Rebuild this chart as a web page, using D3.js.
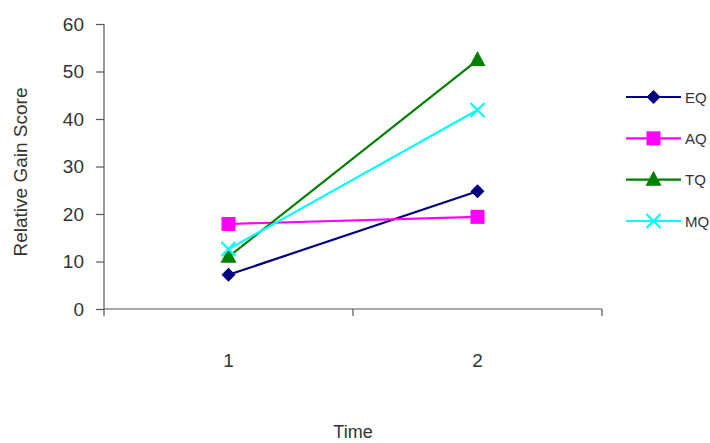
<!DOCTYPE html>
<html><head><meta charset="utf-8">
<script src="https://cdn.jsdelivr.net/npm/d3@7"></script>
<style>body{margin:0;background:#fff}svg{display:block;font-family:"Liberation Sans",Arial,sans-serif}</style>
</head><body><svg id="c" width="710" height="443"></svg>
<script>
const categories = ["1", "2"];
const seriesNames = ["EQ", "AQ", "TQ", "MQ"];
const EQ = [7.2, 24.8];
const AQ = [17.9, 19.4];
const TQ = [11.0, 52.4];
const MQ = [12.6, 41.9];
const yTicks = [0, 10, 20, 30, 40, 50, 60];
const colors = ["#000080", "#FF00FF", "#008000", "#00FFFF"];
const symbols = ["diamond", "square", "triangle", "x"];
const values = [EQ, AQ, TQ, MQ];

const svg = d3.select("#c");
const x = d3.scaleBand().domain(categories).range([104, 602]);
const y = d3.scaleLinear().domain([0, 60]).range([309, 24]);
const axisColor = "#555";
const textColor = "#333";
const font = "'Liberation Sans',Arial,sans-serif";

const ya = svg.append("g").attr("transform", "translate(104,0)")
  .call(d3.axisLeft(y).tickValues(yTicks).tickSize(8).tickPadding(12));
const xa = svg.append("g").attr("transform", "translate(0,309)")
  .call(d3.axisBottom(x).tickSize(0).tickPadding(45));
[ya, xa].forEach(a => {
  a.select(".domain").attr("stroke", axisColor).attr("stroke-width", 1.2);
  a.selectAll(".tick line").attr("stroke", axisColor).attr("stroke-width", 1.2);
  a.selectAll("text").attr("fill", textColor).style("font-size", "19px").style("font-family", font);
});
ya.select(".domain").attr("d", "M0,24V309");
const bounds = [x.range()[0], x("2"), x.range()[1]];
svg.append("g").selectAll("line").data(bounds).join("line")
  .attr("x1", d => d).attr("x2", d => d).attr("y1", 309).attr("y2", 316)
  .attr("stroke", axisColor).attr("stroke-width", 1.2);
xa.select(".domain").attr("d", "M104,0H602");

svg.append("text").attr("x", 353).attr("y", 438).attr("text-anchor", "middle")
  .style("font-size", "18px").attr("fill", textColor).text("Time");
svg.append("text").attr("transform", "translate(27,172) rotate(-90)").attr("text-anchor", "middle")
  .style("font-size", "19px").attr("fill", textColor).text("Relative Gain Score");

function drawSym(g, type, cx, cy, color) {
  if (type === "diamond") {
    g.append("path").attr("d", `M${cx},${cy-7}L${cx+7},${cy}L${cx},${cy+7}L${cx-7},${cy}Z`).attr("fill", color);
  } else if (type === "square") {
    g.append("rect").attr("x", cx-7).attr("y", cy-7).attr("width", 14).attr("height", 14).attr("fill", color);
  } else if (type === "triangle") {
    g.append("path").attr("d", `M${cx},${cy-9}L${cx+8},${cy+6}L${cx-8},${cy+6}Z`).attr("fill", color);
  } else {
    g.append("path").attr("d", `M${cx-7},${cy-7}L${cx+7},${cy+7}M${cx-7},${cy+7}L${cx+7},${cy-7}`)
      .attr("stroke", color).attr("stroke-width", 2.2).attr("fill", "none");
  }
}

const line = d3.line().x((d, i) => x(categories[i]) + x.bandwidth() / 2).y(d => y(d));
values.forEach((vals, s) => {
  const g = svg.append("g");
  g.append("path").attr("d", line(vals)).attr("fill", "none").attr("stroke", colors[s]).attr("stroke-width", 2.2);
  vals.forEach((v, i) => drawSym(g, symbols[s], x(categories[i]) + x.bandwidth() / 2, y(v), colors[s]));
});

const legY = d3.scalePoint().domain(seriesNames).range([97, 221]);
seriesNames.forEach((n, s) => {
  const g = svg.append("g");
  const cy = legY(n);
  g.append("line").attr("x1", 626).attr("x2", 681).attr("y1", cy).attr("y2", cy).attr("stroke", colors[s]).attr("stroke-width", 2.2);
  drawSym(g, symbols[s], 653.5, cy, colors[s]);
  g.append("text").attr("x", 685).attr("y", cy + 5.5).style("font-size", "15px").attr("fill", textColor).text(n);
});
</script></body></html>
